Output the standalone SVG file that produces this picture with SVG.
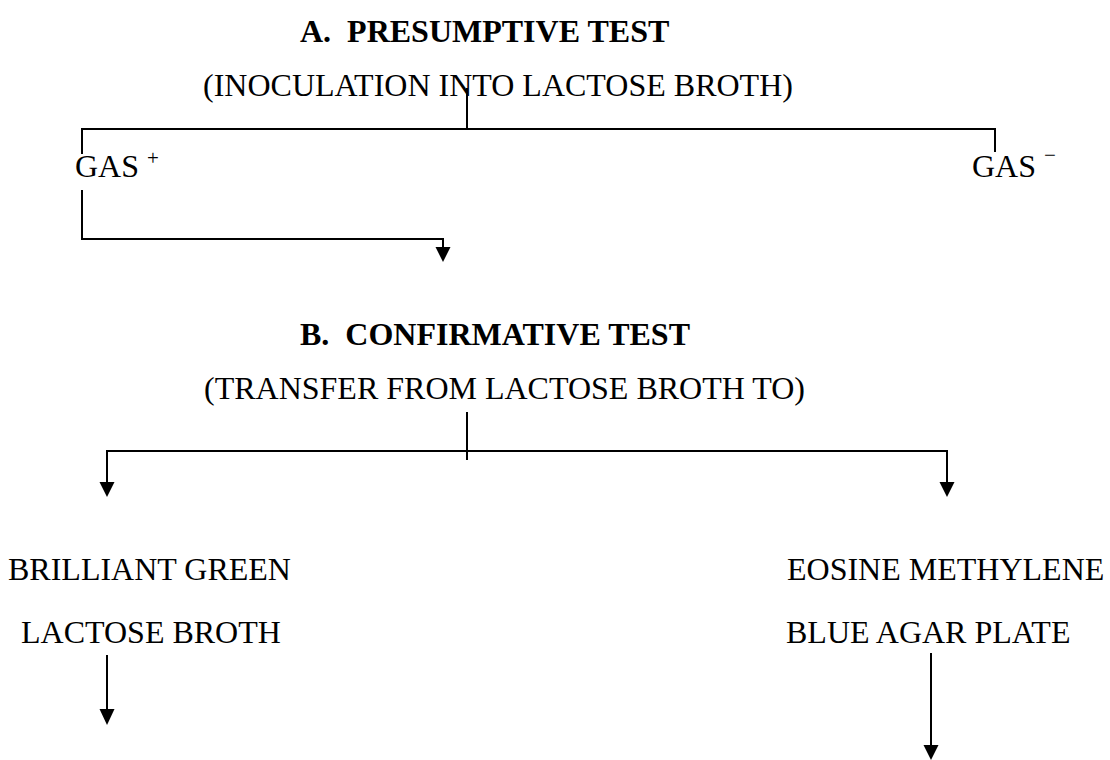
<svg xmlns="http://www.w3.org/2000/svg" width="1110" height="760" viewBox="0 0 1110 760">
<style>
text{font-family:"Liberation Serif","Times New Roman",serif;font-size:32px;fill:#000;white-space:pre}
.b{font-weight:bold}
.sup{font-size:21px}
.ln{fill:none;stroke:#000;stroke-width:2}
.ah{fill:#000;stroke:none}
</style>
<rect width="1110" height="760" fill="#fff"/>
<g id="titleA"><text class="b" x="300" y="42" xml:space="preserve">A.  PRESUMPTIVE TEST</text></g>
<g id="inoculation"><text x="203" y="96">(INOCULATION INTO LACTOSE BROTH)</text></g>
<g id="gasPos"><text x="75" y="177">GAS <tspan class="sup" dy="-12">+</tspan></text></g>
<g id="gasNeg"><text x="972" y="177">GAS <tspan class="sup" dy="-15">−</tspan></text></g>
<g id="titleB"><text class="b" x="300" y="345" xml:space="preserve">B.  CONFIRMATIVE TEST</text></g>
<g id="transfer"><text x="204" y="399">(TRANSFER FROM LACTOSE BROTH TO)</text></g>
<g id="brilliant"><text x="8" y="580">BRILLIANT GREEN</text><text x="21" y="643">LACTOSE BROTH</text></g>
<g id="eosine"><text x="787" y="580">EOSINE METHYLENE</text><text x="786" y="643">BLUE AGAR PLATE</text></g>
<g id="connectors">
<polyline class="ln" points="467,88 467,129"/>
<polyline class="ln" points="82,154 82,129 995,129 995,152"/>
<polyline class="ln" points="82,190 82,239 443,239 443,248"/>
<polygon class="ah" points="435.5,247 450.5,247 443,262"/>
<polyline class="ln" points="467,412 467,460"/>
<polyline class="ln" points="107,483 107,451 947,451 947,483"/>
<polygon class="ah" points="99.5,482 114.5,482 107,497"/>
<polygon class="ah" points="939.5,482 954.5,482 947,497"/>
<polyline class="ln" points="107,655 107,710"/>
<polygon class="ah" points="99.5,709 114.5,709 107,725"/>
<polyline class="ln" points="931,653 931,746"/>
<polygon class="ah" points="923.5,745 938.5,745 931,760"/>
</g>
</svg>
